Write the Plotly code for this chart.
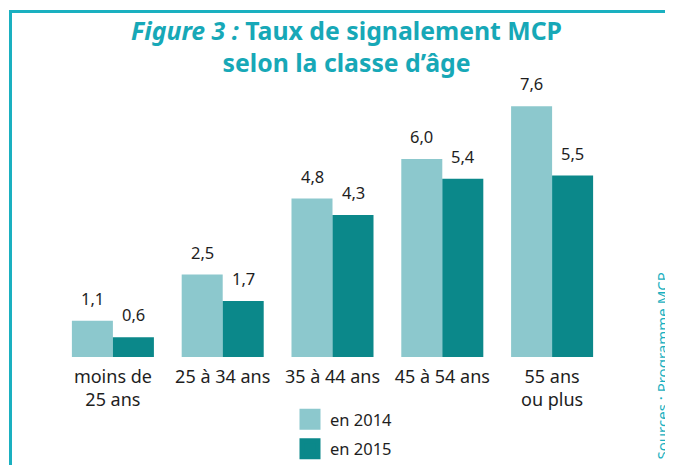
import plotly.graph_objects as go

# ---- data ----
categories = ["moins de<br>25 ans", "25 à 34 ans", "35 à 44 ans", "45 à 54 ans", "55 ans<br>ou plus"]
values_2014 = [1.1, 2.5, 4.8, 6.0, 7.6]
values_2015 = [0.6, 1.7, 4.3, 5.4, 5.5]
series_names = ["en 2014", "en 2015"]
title_text = "<b><i>Figure 3 :</i> Taux de signalement MCP<br>selon la classe d’âge</b>"
source_text = "Sources : Programme MCP"

# ---- style ----
OFF = 8                      # page body margin offset
W, H = 673 - OFF, 465 - OFF  # figure size
# screen-space plot area: x 58..607, y 93..357
ML, MR, MT, MB = 58 - OFF, 673 - 607, 93 - OFF, 465 - 357
colors = ["#8cc8cd", "#0b888a"]
teal = "#17a8b7"
frame_col = "#1ab0c0"
txt = "#1e1e1e"
FONT = "Noto Sans"
PW = W - ML - MR
PH = H - MT - MB

def px_x(sx):
    return (sx - OFF - ML) / PW

def px_y(sy):
    return (H - MB - (sy - OFF)) / PH

fig = go.Figure()
series = [values_2014, values_2015]
for name, vals, col in zip(series_names, series, colors):
    fig.add_trace(go.Bar(x=categories, y=vals, name=name, marker_color=col,
                         marker_line_width=0, showlegend=False))
# legend entries
for i, (name, col) in enumerate(zip(series_names, colors)):
    fig.add_trace(go.Scatter(x=[None], y=[None], mode="markers", name=name,
                             legendgroup=f"g{i}",
                             marker=dict(symbol="square", size=16, color=col,
                                         line=dict(color=col, width=6))))

# value labels
bar_w = 41
for i, vals in enumerate(series):
    shift = (i - 0.5) * bar_w
    for c, v in zip(categories, vals):
        fig.add_annotation(x=c, y=v, text=f"{v:.1f}".replace(".", ","),
                           showarrow=False, xshift=shift, yshift=9,
                           yanchor="bottom",
                           font=dict(family=FONT, size=16.5, color=txt))

# source text
fig.add_annotation(xref="paper", yref="paper", x=px_x(661), y=px_y(462),
                   xanchor="center", yanchor="bottom",
                   text=source_text, textangle=-90, showarrow=False,
                   font=dict(family=FONT, size=15, color=frame_col))

# frame lines
fig.add_shape(type="line", xref="paper", yref="paper",
              x0=px_x(10.5), x1=px_x(680), y0=px_y(11.5), y1=px_y(11.5),
              line=dict(color=frame_col, width=3))
fig.add_shape(type="line", xref="paper", yref="paper",
              x0=px_x(10.5), x1=px_x(10.5), y0=px_y(10), y1=px_y(470),
              line=dict(color=frame_col, width=3))

fig.update_layout(
    width=W, height=H,
    margin=dict(l=ML, r=MR, t=MT, b=MB, autoexpand=False),
    paper_bgcolor="white", plot_bgcolor="white",
    barmode="group", bargap=0.253, bargroupgap=0,
    separators=", ",
    font=dict(family=FONT, color=txt),
    title=dict(text=title_text, x=(346.5 - OFF) / W, xanchor="center", xref="container",
               y=1 - 32 / H, yanchor="top", yref="container",
               font=dict(family=FONT, size=24.8, color=teal)),
    showlegend=True,
    legend=dict(x=282 / W, y=1 - 394 / H, xanchor="left", yanchor="top",
                xref="container", yref="container",
                orientation="v", tracegroupgap=5,
                font=dict(family=FONT, size=16.5, color=txt),
                bgcolor="rgba(0,0,0,0)"),
    xaxis=dict(showline=False, showgrid=False, ticks="", zeroline=False,
               automargin=False, ticklabelstandoff=7,
               tickfont=dict(family=FONT, size=18, color=txt)),
    yaxis=dict(range=[0, 8], visible=False, showgrid=False, zeroline=False,
               automargin=False),
)

fig.write_html("out.html")
